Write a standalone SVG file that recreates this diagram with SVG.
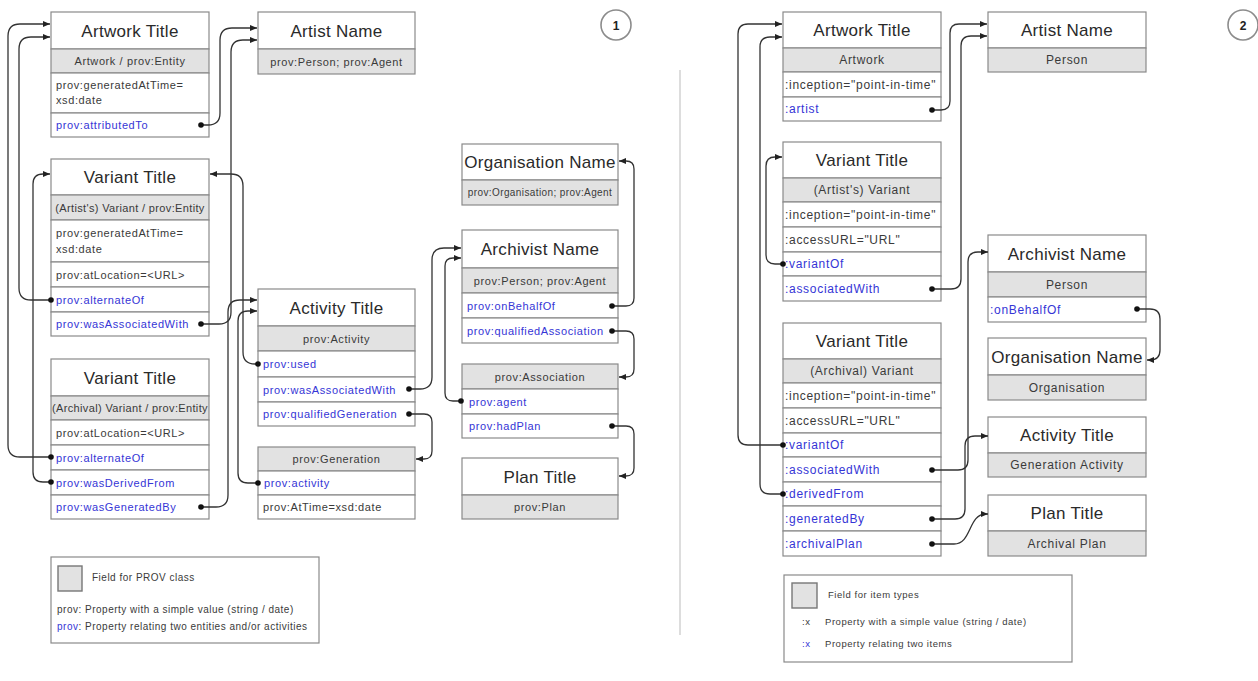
<svg xmlns="http://www.w3.org/2000/svg" width="1258" height="681" viewBox="0 0 1258 681">
  <defs>
    <style>
      .row { fill: #ffffff; stroke: #8a8a8a; stroke-width: 1.2; }
      .cls { fill: #e2e2e2; stroke: #8a8a8a; stroke-width: 1.2; }
      text { font-family: "Liberation Sans", Arial, sans-serif; }
      .t { font-size: 17px; fill: #2a2a2a; text-anchor: middle; letter-spacing: 0.3px; }
      .g { font-size: 11px; fill: #3a3a3a; text-anchor: middle; letter-spacing: 0.6px; }
      .p { font-size: 11px; fill: #3a3a3a; letter-spacing: 0.6px; }
      .b { font-size: 11px; fill: #3535d6; letter-spacing: 0.6px; }
      .g2 { font-size: 12px; fill: #3a3a3a; text-anchor: middle; letter-spacing: 0.7px; }
      .p2 { font-size: 12px; fill: #3a3a3a; letter-spacing: 0.7px; }
      .b2 { font-size: 12px; fill: #3535d6; letter-spacing: 0.7px; }
      .lg { font-size: 10px; fill: #3a3a3a; letter-spacing: 0.5px; }
      .lg2 { font-size: 9.5px; fill: #3a3a3a; letter-spacing: 0.55px; }
      .blue { fill: #3535d6; }
      .edge { fill: none; stroke: #333333; stroke-width: 1.3; marker-start: url(#dot); marker-end: url(#arrow); }
      .badge { fill: #ffffff; stroke: #8c8c8c; stroke-width: 1.6; }
      .num { font-size: 12px; font-weight: bold; fill: #222; text-anchor: middle; }
    </style>
    <marker id="arrow" viewBox="0 0 10 10" refX="10" refY="5" markerWidth="7" markerHeight="7" markerUnits="userSpaceOnUse" orient="auto">
      <path d="M0,0.8 L10,5 L0,9.2 z" fill="#222222"/>
    </marker>
    <marker id="dot" viewBox="0 0 6 6" refX="3" refY="3" markerWidth="6" markerHeight="6" markerUnits="userSpaceOnUse">
      <circle cx="3" cy="3" r="2.8" fill="#111111"/>
    </marker>
  </defs>

  <rect width="1258" height="681" fill="#ffffff"/>

  <!-- panel badges and divider -->
  <g id="badge-1"><circle class="badge" cx="616" cy="25" r="15"/><text class="num" x="616" y="29.5">1</text></g>
  <g id="badge-2"><circle class="badge" cx="1243" cy="25" r="15"/><text class="num" x="1243" y="29.5">2</text></g>
  <line id="divider" x1="680" y1="70" x2="680" y2="635" stroke="#dddddd" stroke-width="2"/>

  <!-- ===== PROV model ===== -->
  <g id="prov-artwork">
    <rect class="row" x="51" y="12" width="158" height="37"/>
    <rect class="cls" x="51" y="49" width="158" height="24"/>
    <rect class="row" x="51" y="73" width="158" height="40"/>
    <rect class="row" x="51" y="113" width="158" height="24"/>
    <text class="t" x="130" y="37">Artwork Title</text>
    <text class="g" x="130" y="65">Artwork / prov:Entity</text>
    <text class="p" x="56" y="89">prov:generatedAtTime=</text>
    <text class="p" x="56" y="104">xsd:date</text>
    <text class="b" x="56" y="129">prov:attributedTo</text>
  </g>

  <g id="prov-artist">
    <rect class="row" x="258" y="12" width="157" height="37"/>
    <rect class="cls" x="258" y="49" width="157" height="25"/>
    <text class="t" x="336.5" y="37">Artist Name</text>
    <text class="g" x="336.5" y="65.5">prov:Person; prov:Agent</text>
  </g>

  <g id="prov-variant-artist">
    <rect class="row" x="51" y="159" width="158" height="36"/>
    <rect class="cls" x="51" y="195" width="158" height="25"/>
    <rect class="row" x="51" y="220" width="158" height="42"/>
    <rect class="row" x="51" y="262" width="158" height="25"/>
    <rect class="row" x="51" y="287" width="158" height="25"/>
    <rect class="row" x="51" y="312" width="158" height="24"/>
    <text class="t" x="130" y="183">Variant Title</text>
    <text class="g" x="130" y="211.5" style="letter-spacing:0.35px">(Artist's) Variant / prov:Entity</text>
    <text class="p" x="56" y="237">prov:generatedAtTime=</text>
    <text class="p" x="56" y="253">xsd:date</text>
    <text class="p" x="56" y="278.5">prov:atLocation=&lt;URL&gt;</text>
    <text class="b" x="56" y="303.5">prov:alternateOf</text>
    <text class="b" x="56" y="328">prov:wasAssociatedWith</text>
  </g>

  <g id="prov-variant-archival">
    <rect class="row" x="51" y="359" width="158" height="37"/>
    <rect class="cls" x="51" y="396" width="158" height="24"/>
    <rect class="row" x="51" y="420" width="158" height="25"/>
    <rect class="row" x="51" y="445" width="158" height="25"/>
    <rect class="row" x="51" y="470" width="158" height="25"/>
    <rect class="row" x="51" y="495" width="158" height="24"/>
    <text class="t" x="130" y="383.5">Variant Title</text>
    <text class="g" x="130" y="412" style="letter-spacing:0.35px">(Archival) Variant / prov:Entity</text>
    <text class="p" x="56" y="436.5">prov:atLocation=&lt;URL&gt;</text>
    <text class="b" x="56" y="461.5">prov:alternateOf</text>
    <text class="b" x="56" y="486.5">prov:wasDerivedFrom</text>
    <text class="b" x="56" y="511">prov:wasGeneratedBy</text>
  </g>

  <g id="prov-activity">
    <rect class="row" x="258" y="289" width="157" height="37"/>
    <rect class="cls" x="258" y="326" width="157" height="25"/>
    <rect class="row" x="258" y="351" width="157" height="26"/>
    <rect class="row" x="258" y="377" width="157" height="25"/>
    <rect class="row" x="258" y="402" width="157" height="24"/>
    <text class="t" x="336.5" y="313.5">Activity Title</text>
    <text class="g" x="336.5" y="342.5">prov:Activity</text>
    <text class="b" x="263" y="368">prov:used</text>
    <text class="b" x="263" y="393.5">prov:wasAssociatedWith</text>
    <text class="b" x="263" y="418">prov:qualifiedGeneration</text>
  </g>

  <g id="prov-generation">
    <rect class="cls" x="258" y="447" width="157" height="24"/>
    <rect class="row" x="258" y="471" width="157" height="24"/>
    <rect class="row" x="258" y="495" width="157" height="24"/>
    <text class="g" x="336.5" y="463">prov:Generation</text>
    <text class="b" x="264" y="487">prov:activity</text>
    <text class="p" x="263" y="511">prov:AtTime=xsd:date</text>
  </g>

  <g id="prov-organisation">
    <rect class="row" x="462" y="144" width="156" height="36"/>
    <rect class="cls" x="462" y="180" width="156" height="25"/>
    <text class="t" x="540" y="168">Organisation Name</text>
    <text class="g" x="540" y="196" style="font-size:10px;letter-spacing:0.4px">prov:Organisation; prov:Agent</text>
  </g>

  <g id="prov-archivist">
    <rect class="row" x="462" y="230" width="156" height="38"/>
    <rect class="cls" x="462" y="268" width="156" height="25"/>
    <rect class="row" x="462" y="293" width="156" height="25"/>
    <rect class="row" x="462" y="318" width="156" height="25"/>
    <text class="t" x="540" y="255">Archivist Name</text>
    <text class="g" x="540" y="284.5">prov:Person; prov:Agent</text>
    <text class="b" x="467" y="309.5">prov:onBehalfOf</text>
    <text class="b" x="467" y="334.5">prov:qualifiedAssociation</text>
  </g>

  <g id="prov-association">
    <rect class="cls" x="462" y="364" width="156" height="25"/>
    <rect class="row" x="462" y="389" width="156" height="25"/>
    <rect class="row" x="462" y="414" width="156" height="24"/>
    <text class="g" x="540" y="380.5">prov:Association</text>
    <text class="b" x="469" y="405.5">prov:agent</text>
    <text class="b" x="469" y="430">prov:hadPlan</text>
  </g>

  <g id="prov-plan">
    <rect class="row" x="462" y="458" width="156" height="37"/>
    <rect class="cls" x="462" y="495" width="156" height="24"/>
    <text class="t" x="540" y="482.5">Plan Title</text>
    <text class="g" x="540" y="511">prov:Plan</text>
  </g>

  <g id="prov-legend">
    <rect x="51" y="557" width="268" height="86" fill="#ffffff" stroke="#8a8a8a" stroke-width="1.2"/>
    <rect x="58" y="566" width="24" height="25" fill="#e2e2e2" stroke="#777777" stroke-width="1.4"/>
    <text class="lg" x="92" y="581">Field for PROV class</text>
    <text class="lg" x="57" y="613">prov: Property with a simple value (string / date)</text>
    <text class="lg" x="57" y="630"><tspan class="blue">prov</tspan>: Property relating two entities and/or activities</text>
  </g>

  <!-- ===== item model ===== -->
  <g id="item-artwork">
    <rect class="row" x="783" y="12" width="158" height="36"/>
    <rect class="cls" x="783" y="48" width="158" height="24"/>
    <rect class="row" x="783" y="72" width="158" height="25"/>
    <rect class="row" x="783" y="97" width="158" height="24"/>
    <text class="t" x="862" y="36">Artwork Title</text>
    <text class="g2" x="862" y="64">Artwork</text>
    <text class="p2" x="785" y="88.5">:inception="point-in-time"</text>
    <text class="b2" x="785" y="113">:artist</text>
  </g>

  <g id="item-artist">
    <rect class="row" x="988" y="12" width="158" height="36"/>
    <rect class="cls" x="988" y="48" width="158" height="24"/>
    <text class="t" x="1067" y="36">Artist Name</text>
    <text class="g2" x="1067" y="64">Person</text>
  </g>

  <g id="item-variant-artist">
    <rect class="row" x="783" y="142" width="158" height="36"/>
    <rect class="cls" x="783" y="178" width="158" height="24"/>
    <rect class="row" x="783" y="202" width="158" height="25"/>
    <rect class="row" x="783" y="227" width="158" height="25"/>
    <rect class="row" x="783" y="252" width="158" height="24"/>
    <rect class="row" x="783" y="276" width="158" height="25"/>
    <text class="t" x="862" y="166">Variant Title</text>
    <text class="g2" x="862" y="194">(Artist's) Variant</text>
    <text class="p2" x="785" y="218.5">:inception="point-in-time"</text>
    <text class="p2" x="785" y="243.5">:accessURL="URL"</text>
    <text class="b2" x="785" y="268">:variantOf</text>
    <text class="b2" x="785" y="292.5">:associatedWith</text>
  </g>

  <g id="item-archivist">
    <rect class="row" x="988" y="235" width="158" height="37"/>
    <rect class="cls" x="988" y="272" width="158" height="25"/>
    <rect class="row" x="988" y="297" width="158" height="25"/>
    <text class="t" x="1067" y="259.5">Archivist Name</text>
    <text class="g2" x="1067" y="288.5">Person</text>
    <text class="b2" x="990" y="313.5">:onBehalfOf</text>
  </g>

  <g id="item-variant-archival">
    <rect class="row" x="783" y="323" width="158" height="36"/>
    <rect class="cls" x="783" y="359" width="158" height="24"/>
    <rect class="row" x="783" y="383" width="158" height="25"/>
    <rect class="row" x="783" y="408" width="158" height="25"/>
    <rect class="row" x="783" y="433" width="158" height="24"/>
    <rect class="row" x="783" y="457" width="158" height="25"/>
    <rect class="row" x="783" y="482" width="158" height="24"/>
    <rect class="row" x="783" y="506" width="158" height="25"/>
    <rect class="row" x="783" y="531" width="158" height="25"/>
    <text class="t" x="862" y="347">Variant Title</text>
    <text class="g2" x="862" y="375">(Archival) Variant</text>
    <text class="p2" x="785" y="399.5">:inception="point-in-time"</text>
    <text class="p2" x="785" y="424.5">:accessURL="URL"</text>
    <text class="b2" x="785" y="449">:variantOf</text>
    <text class="b2" x="785" y="473.5">:associatedWith</text>
    <text class="b2" x="785" y="498">:derivedFrom</text>
    <text class="b2" x="785" y="522.5">:generatedBy</text>
    <text class="b2" x="785" y="547.5">:archivalPlan</text>
  </g>

  <g id="item-organisation">
    <rect class="row" x="988" y="338" width="158" height="37"/>
    <rect class="cls" x="988" y="375" width="158" height="25"/>
    <text class="t" x="1067" y="362.5">Organisation Name</text>
    <text class="g2" x="1067" y="391.5">Organisation</text>
  </g>

  <g id="item-activity">
    <rect class="row" x="988" y="417" width="158" height="36"/>
    <rect class="cls" x="988" y="453" width="158" height="24"/>
    <text class="t" x="1067" y="441">Activity Title</text>
    <text class="g2" x="1067" y="469">Generation Activity</text>
  </g>

  <g id="item-plan">
    <rect class="row" x="988" y="495" width="158" height="36"/>
    <rect class="cls" x="988" y="531" width="158" height="25"/>
    <text class="t" x="1067" y="519">Plan Title</text>
    <text class="g2" x="1067" y="547.5">Archival Plan</text>
  </g>

  <g id="item-legend">
    <rect x="784" y="575" width="288" height="87" fill="#ffffff" stroke="#8a8a8a" stroke-width="1.2"/>
    <rect x="792" y="583" width="25" height="25" fill="#e2e2e2" stroke="#777777" stroke-width="1.4"/>
    <text class="lg2" x="828" y="598">Field for item types</text>
    <text class="lg2" x="802" y="625">:x</text>
    <text class="lg2" x="825" y="625">Property with a simple value (string / date)</text>
    <text class="lg2 blue" x="802" y="647">:x</text>
    <text class="lg2" x="825" y="647">Property relating two items</text>
  </g>

  <!-- ===== connectors: dot at the property, arrow at the target ===== -->
  <g id="connectors">
    <!-- PROV model -->
    <path class="edge" d="M201,125 H208 Q220,125 220,113 V40 Q220,28 232,28 H257"/>
    <path class="edge" d="M201,324 H219 Q231,324 231,312 V52 Q231,40 243,40 H257"/>
    <path class="edge" d="M258,364 H255 Q243,364 243,352 V186 Q243,174 231,174 H210"/>
    <path class="edge" d="M201,507 H216 Q228,507 228,495 V312 Q228,300 240,300 H257"/>
    <path class="edge" d="M258,483 H248 Q238,483 238,473 V321 Q238,311 248,311 H257"/>
    <path class="edge" d="M409,389 H420 Q432,389 432,377 V260 Q432,248 444,248 H461"/>
    <path class="edge" d="M409,414 H424 Q432,414 432,422 V451 Q432,459 424,459 H416"/>
    <path class="edge" d="M461,401 H453 Q445,401 445,393 V266 Q445,258 453,258 H461"/>
    <path class="edge" d="M612,306 H626 Q634,306 634,298 V169 Q634,161 626,161 H619"/>
    <path class="edge" d="M612,331 H626 Q634,331 634,339 V369 Q634,377 626,377 H619"/>
    <path class="edge" d="M612,426 H626 Q634,426 634,434 V468 Q634,476 626,476 H619"/>
    <path class="edge" d="M51,300 H31 Q19,300 19,288 V49 Q19,37 31,37 H50"/>
    <path class="edge" d="M51,457 H20 Q8,457 8,445 V36 Q8,24 20,24 H50"/>
    <path class="edge" d="M51,482 H43 Q33,482 33,472 V184 Q33,174 43,174 H50"/>
    <!-- item model -->
    <path class="edge" d="M932,110 H941 Q950,110 950,101 V33 Q950,24 959,24 H987"/>
    <path class="edge" d="M932,289 H951 Q961,289 961,279 V46 Q961,36 971,36 H987"/>
    <path class="edge" d="M932,470 H958 Q968,470 968,460 V262 Q968,252 978,252 H988"/>
    <path class="edge" d="M932,519 H955 Q965,519 965,509 V446 Q965,436 975,436 H988"/>
    <path class="edge" d="M932,544 H954 C972,544 968,514 986,514 H988"/>
    <path class="edge" d="M783,264 H775 Q766,264 766,255 V166 Q766,157 775,157 H782"/>
    <path class="edge" d="M783,445 H748 Q738,445 738,435 V34 Q738,24 748,24 H782"/>
    <path class="edge" d="M783,494 H770 Q760,494 760,484 V47 Q760,37 770,37 H782"/>
    <path class="edge" d="M1137,309 H1150 Q1160,309 1160,319 V350 Q1160,360 1150,360 H1147"/>
  </g>
</svg>
